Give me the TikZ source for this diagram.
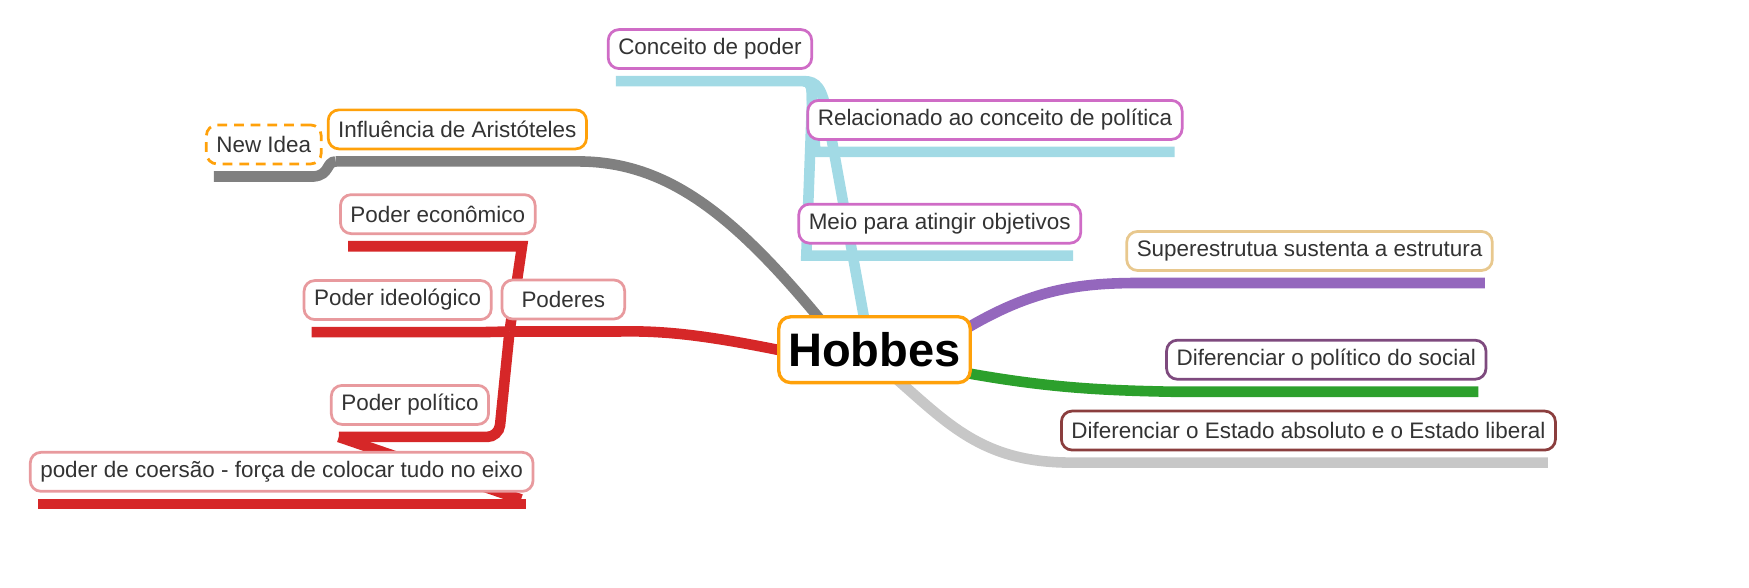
\documentclass[tikz,border=0pt]{standalone}
\usepackage{fontspec}
\setmainfont{Liberation Sans}
\usepackage{tikz}
\usetikzlibrary{positioning,calc,backgrounds}

\definecolor{txt}{HTML}{333333}
\definecolor{hobbesorange}{HTML}{FFA10A}
\definecolor{orchid}{HTML}{CF6CC6}
\definecolor{skyline}{HTML}{A2DAE5}
\definecolor{greyline}{HTML}{808080}
\definecolor{pinkred}{HTML}{E89A9E}
\definecolor{redline}{HTML}{D62728}
\definecolor{tan}{HTML}{E8C88E}
\definecolor{purpleline}{HTML}{9467BD}
\definecolor{plum}{HTML}{7E4A7E}
\definecolor{greenline}{HTML}{2CA02C}
\definecolor{brownish}{HTML}{8B3E3E}
\definecolor{lightline}{HTML}{C7C7C7}

\begin{document}
\begin{tikzpicture}[x=0.02cm,y=-0.02cm,
    idea/.style={draw,fill=white,rounded corners=5.5pt,line width=1.4pt,
        inner xsep=0.18cm,inner ysep=0pt,minimum height=0.7cm,text=txt,
        font=\fontsize{11.45}{13}\selectfont},
    branch/.style={line width=0.19cm}]
\useasboundingbox (0,0) rectangle (1568,527);

% Central topic
\node[draw=hobbesorange,fill=white,rounded corners=6pt,line width=1.7pt,
    inner xsep=0.17cm,minimum height=1.18cm,
    font=\fontsize{24}{28}\bfseries\selectfont] (hobbes) at (784,313.5) {Hobbes};

% Upper branch
\node[idea,draw=orchid] (conceito) at (636.5,44) {Conceito de poder};
\node[idea,draw=orchid] (relac) at (892,107.5) {Relacionado ao conceito de política};
\node[idea,draw=orchid] (meio) at (842.5,200.5) {Meio para atingir objetivos};

% Left branches
\node[idea,draw=hobbesorange] (influ) at (410,116) {Influência de Aristóteles};
\node[idea,draw=hobbesorange,dash pattern=on 5pt off 3.5pt] (newidea) at (236.5,129.5) {New Idea};
\node[idea,draw=pinkred,minimum width=2.2cm] (poderes) at (505,268.5) {Poderes};
\node[idea,draw=pinkred] (econ) at (392.5,192) {Poder econômico};
\node[idea,draw=pinkred] (ideol) at (356.5,269) {Poder ideológico};
\node[idea,draw=pinkred] (politico) at (367.5,363) {Poder político};
\node[idea,draw=pinkred] (coersao) at (252.5,423) {poder de coersão - força de colocar tudo no eixo};

% Right branches
\node[idea,draw=tan] (super) at (1174,225) {Superestrutua sustenta a estrutura};
\node[idea,draw=plum] (difpol) at (1189,322.5) {Diferenciar o político do social};
\node[idea,draw=brownish] (estado) at (1173,386) {Diferenciar o Estado absoluto e o Estado liberal};

% underline ends
\foreach \n in {conceito,relac,meio,influ,newidea,poderes,econ,ideol,politico,coersao,super,difpol,estado} {
    \coordinate (\n-l) at ($(\n.south west)+(8,10)$);
    \coordinate (\n-r) at ($(\n.south east)+(-8,10)$);
}

\begin{pgfonlayer}{background}
% Conceito de poder and its children
\draw[branch,skyline] ($(hobbes.north)+(-8,10)$) -- (742,105)
    .. controls (737,78) and (732,73) .. (conceito-r) -- (conceito-l);
\draw[branch,skyline] (conceito-r) .. controls (727,73) and (728,78) .. (728,90)
    -- (relac-l) -- (relac-r);
\draw[branch,skyline] (conceito-r) .. controls (727,73) and (728,78) .. (728,90)
    -- (meio-l) -- (meio-r);

% Influencia de Aristoteles
\draw[branch,greyline] ($(hobbes.north west)+(42,8)$)
    .. controls (660,195) and (600,145) .. (influ-r) -- (influ-l);
\draw[branch,greyline] (influ-l) .. controls (292,145) and (296,157) .. (newidea-r) -- (newidea-l);

% Poderes
\draw[branch,redline] ($(hobbes.west)+(10,2)$)
    .. controls (640,302) and (600,296) .. (poderes-r) -- (poderes-l);
\draw[branch,redline] (poderes-l) -- (ideol-r) -- (ideol-l);
\draw[branch,redline] (poderes-l) -- ($(econ-r)+(-5,0)$) -- (econ-l);
\draw[branch,redline,rounded corners=6pt] (poderes-l) -- ($(politico-r)+(16,0)$) -- (politico-l);
\draw[branch,redline] (politico-l) -- ($(coersao-r)+(-4,-4)$);
\draw[branch,redline] (coersao-r) -- (coersao-l);

% Right side
\draw[branch,purpleline] ($(hobbes.east)+(-10,-16)$)
    .. controls (920,262) and (960,254) .. (super-l) -- (super-r);
\draw[branch,greenline] ($(hobbes.east)+(-10,20)$)
    .. controls (940,348) and (990,350) .. (difpol-l) -- (difpol-r);
\draw[branch,lightline] ($(hobbes.south)+(16,-8)$)
    .. controls (850,380) and (880,414) .. (estado-l) -- (estado-r);
\end{pgfonlayer}
\end{tikzpicture}
\end{document}
